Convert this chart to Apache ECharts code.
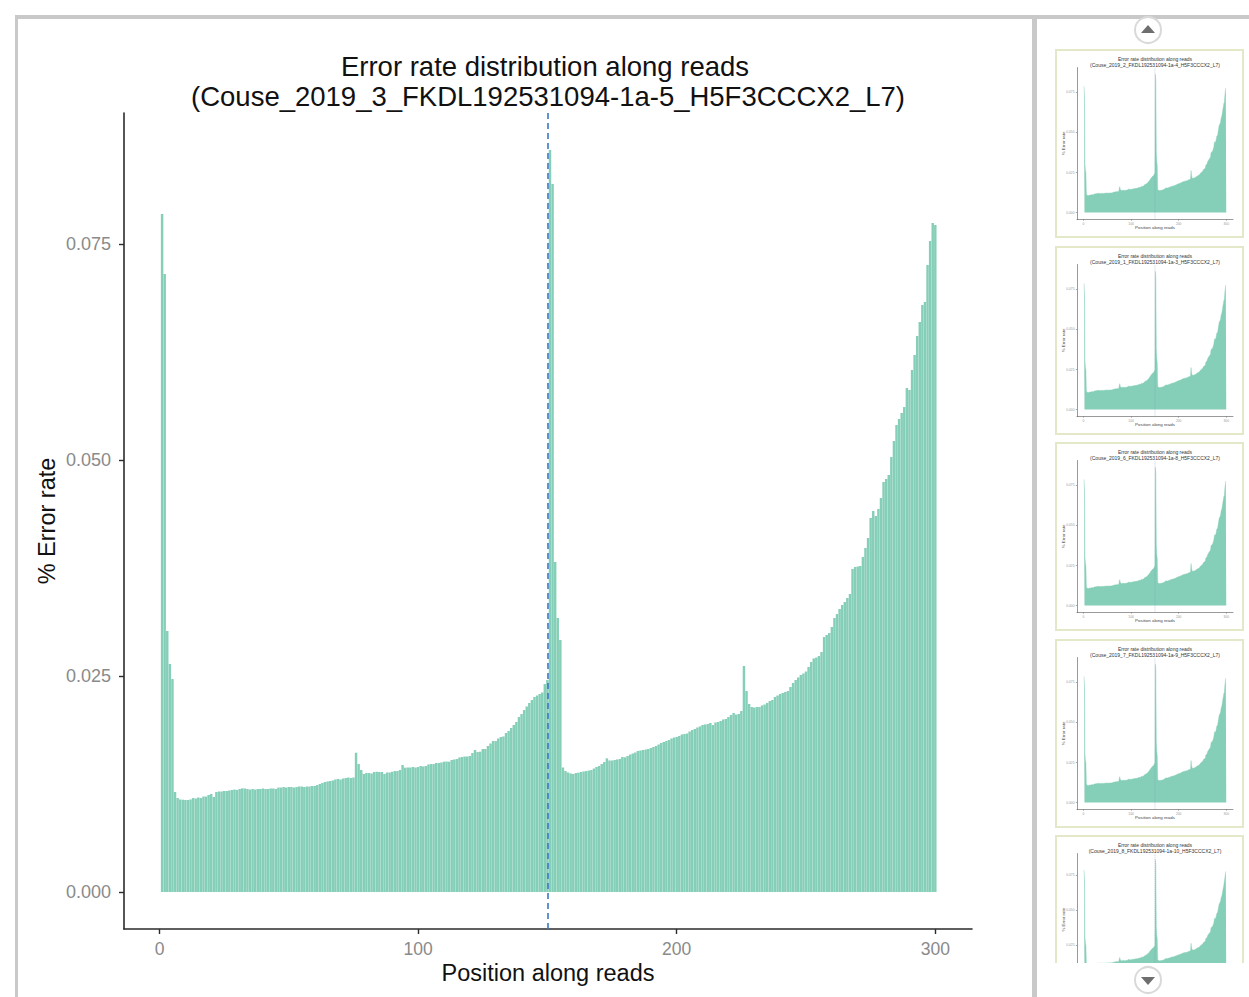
<!DOCTYPE html>
<html>
<head>
<meta charset="utf-8">
<script src="https://cdn.jsdelivr.net/npm/echarts@6/dist/echarts.min.js"></script>
<style>
html,body{margin:0;padding:0;background:#fff;overflow:hidden;}
#c{width:1249px;height:997px;}
</style>
</head>
<body>
<div id="c"></div>
<script>
// ---------------- data ----------------
const titleLines = ['Error rate distribution along reads', '(Couse_2019_3_FKDL192531094-1a-5_H5F3CCCX2_L7)'];
const xAxisName = 'Position along reads';
const yAxisName = '% Error rate';
const readBoundary = 150;
const xTickValues = [0, 100, 200, 300];
const xTickLabels = ['0', '100', '200', '300'];
const yTickValues = [0, 0.025, 0.05, 0.075];
const yTickLabels = ['0.000', '0.025', '0.050', '0.075'];
// error rate at read positions 1..300
const errorRate = [
0.07847,0.07153,0.03021,0.02639,0.02465,0.01157,0.01088,0.01071,0.01068,0.01065,
0.01065,0.01071,0.01088,0.01082,0.01094,0.01088,0.01105,0.01105,0.01123,0.01134,
0.01100,0.01157,0.01163,0.01163,0.01169,0.01169,0.01175,0.01181,0.01186,0.01181,
0.01192,0.01200,0.01198,0.01192,0.01186,0.01192,0.01186,0.01192,0.01192,0.01198,
0.01192,0.01192,0.01198,0.01198,0.01192,0.01209,0.01209,0.01215,0.01209,0.01215,
0.01215,0.01209,0.01215,0.01221,0.01221,0.01215,0.01221,0.01221,0.01227,0.01227,
0.01238,0.01250,0.01262,0.01273,0.01279,0.01285,0.01291,0.01302,0.01308,0.01302,
0.01314,0.01319,0.01325,0.01319,0.01325,0.01612,0.01481,0.01412,0.01366,0.01377,
0.01377,0.01372,0.01389,0.01392,0.01389,0.01389,0.01366,0.01383,0.01383,0.01392,
0.01400,0.01400,0.01412,0.01470,0.01439,0.01441,0.01441,0.01447,0.01441,0.01447,
0.01458,0.01453,0.01458,0.01476,0.01481,0.01481,0.01493,0.01493,0.01499,0.01508,
0.01510,0.01508,0.01528,0.01534,0.01539,0.01557,0.01563,0.01568,0.01568,0.01574,
0.01609,0.01644,0.01620,0.01624,0.01655,0.01655,0.01690,0.01719,0.01748,0.01748,
0.01777,0.01794,0.01800,0.01840,0.01863,0.01898,0.01933,0.01968,0.02025,0.02060,
0.02106,0.02147,0.02188,0.02222,0.02257,0.02274,0.02292,0.02309,0.02407,0.02454,
0.08588,0.08194,0.03819,0.03171,0.02917,0.01441,0.01400,0.01383,0.01372,0.01366,
0.01377,0.01381,0.01389,0.01395,0.01400,0.01406,0.01412,0.01429,0.01447,0.01458,
0.01481,0.01505,0.01547,0.01522,0.01522,0.01528,0.01534,0.01539,0.01563,0.01559,
0.01574,0.01591,0.01603,0.01615,0.01632,0.01638,0.01644,0.01649,0.01655,0.01667,
0.01678,0.01690,0.01707,0.01725,0.01736,0.01748,0.01759,0.01777,0.01788,0.01794,
0.01806,0.01823,0.01829,0.01834,0.01858,0.01875,0.01887,0.01904,0.01916,0.01933,
0.01939,0.01944,0.01956,0.01933,0.01962,0.01968,0.01979,0.01997,0.02002,0.02025,
0.02049,0.02072,0.02054,0.02060,0.02095,0.02616,0.02326,0.02176,0.02141,0.02135,
0.02141,0.02141,0.02159,0.02170,0.02188,0.02211,0.02222,0.02257,0.02274,0.02292,
0.02303,0.02315,0.02326,0.02373,0.02419,0.02454,0.02483,0.02512,0.02529,0.02552,
0.02604,0.02662,0.02703,0.02714,0.02731,0.02778,0.02951,0.02975,0.02998,0.03067,
0.03171,0.03218,0.03275,0.03322,0.03356,0.03403,0.03449,0.03738,0.03762,0.03767,
0.03773,0.03877,0.03981,0.04097,0.04329,0.04410,0.04352,0.04433,0.04560,0.04745,
0.04780,0.04826,0.05035,0.05220,0.05405,0.05475,0.05544,0.05613,0.05833,0.05810,
0.06042,0.06215,0.06435,0.06597,0.06794,0.06829,0.07257,0.07535,0.07743,0.07720
];
// thumbnails in the side panel (other samples, same layout)
const thumbnailSamples = [
  '(Couse_2019_2_FKDL192531094-1a-4_H5F3CCCX2_L7)',
  '(Couse_2019_1_FKDL192531094-1a-3_H5F3CCCX2_L7)',
  '(Couse_2019_6_FKDL192531094-1a-8_H5F3CCCX2_L7)',
  '(Couse_2019_7_FKDL192531094-1a-9_H5F3CCCX2_L7)',
  '(Couse_2019_8_FKDL192531094-1a-10_H5F3CCCX2_L7)'
];

// ---------------- chart ----------------
const FONT = '"Liberation Sans", Arial, Helvetica, sans-serif';
const BAR = '#85CEB7';
const AXIS = '#2b2b2b';
const TICKTXT = '#8a8a8a';
const seriesData = errorRate.map((v, i) => [i + 1, v]);
function lab(values, labels) {
  return v => { let k = 0, d = Infinity; values.forEach((t, j) => { const e = Math.abs(t - v); if (e < d) { d = e; k = j; } }); return labels[k]; };
}
const X_MIN = -13.73, X_MAX = 314.19, Y_MIN = -0.004282, Y_MAX = 0.090162;

const grids = [{ left: 124, top: 113, width: 848, height: 816 }];
const xAxes = [{
  type: 'value', gridIndex: 0, min: X_MIN, max: X_MAX,
  splitLine: { show: false },
  axisLine: { onZero: false, lineStyle: { color: AXIS, width: 1.6 } },
  axisTick: { customValues: xTickValues, length: 5, lineStyle: { color: AXIS, width: 1.4 } },
  axisLabel: { customValues: xTickValues, formatter: lab(xTickValues, xTickLabels), color: TICKTXT, fontSize: 17.5, fontFamily: FONT, margin: 11 },
  name: xAxisName, nameLocation: 'middle', nameGap: 32, nameMoveOverlap: false,
  nameTextStyle: { fontSize: 23.5, color: '#111', fontFamily: FONT }
}];
const yAxes = [{
  type: 'value', gridIndex: 0, min: Y_MIN, max: Y_MAX,
  splitLine: { show: false },
  axisLine: { onZero: false, lineStyle: { color: AXIS, width: 1.6 } },
  axisTick: { customValues: yTickValues, length: 5, lineStyle: { color: AXIS, width: 1.4 } },
  axisLabel: { customValues: yTickValues, formatter: lab(yTickValues, yTickLabels), color: TICKTXT, fontSize: 18, fontFamily: FONT, margin: 13 },
  name: yAxisName, nameLocation: 'middle', nameGap: 65, nameRotate: 90, nameMoveOverlap: false,
  nameTextStyle: { fontSize: 23.5, color: '#111', fontFamily: FONT }
}];
const series = [{
  type: 'bar', xAxisIndex: 0, yAxisIndex: 0, data: seriesData,
  barWidth: 2.45, silent: true, animation: false,
  itemStyle: { color: BAR },
  markLine: {
    silent: true, symbol: 'none', label: { show: false }, animation: false,
    lineStyle: { color: '#3a78c4', type: [6, 4], width: 1.6 },
    data: [{ xAxis: readBoundary }]
  }
}];

const graphics = [
  { type: 'rect', shape: { x: 15, y: 15, width: 1234, height: 4 }, style: { fill: '#c9c9c9' } },
  { type: 'rect', shape: { x: 15, y: 15, width: 3, height: 982 }, style: { fill: '#c9c9c9' } },
  { type: 'rect', shape: { x: 1032, y: 15, width: 5, height: 982 }, style: { fill: '#c9c9c9' } },
  { type: 'text', x: 545, y: 66, style: { text: titleLines[0], fontSize: 27.5, fontFamily: FONT, fill: '#111', textAlign: 'center', textVerticalAlign: 'middle' } },
  { type: 'text', x: 548, y: 96, style: { text: titleLines[1], fontSize: 27.5, fontFamily: FONT, fill: '#111', textAlign: 'center', textVerticalAlign: 'middle' } }
];

const thumbTops = [50, 247, 443, 640, 836];
thumbTops.forEach((by, i) => {
  const bx = 1056, gi = i + 1;
  grids.push({ left: bx + 21, top: by + 17.5, width: 156, height: 152 });
  xAxes.push({
    type: 'value', gridIndex: gi, min: X_MIN, max: X_MAX, splitLine: { show: false },
    axisLine: { onZero: false, lineStyle: { color: '#555', width: 0.6 } },
    axisTick: { customValues: xTickValues, length: 1.2, lineStyle: { color: '#555', width: 0.5 } },
    axisLabel: { customValues: xTickValues, formatter: lab(xTickValues, xTickLabels), color: '#999', fontSize: 3.3, margin: 2.5, fontFamily: FONT },
    name: xAxisName, nameLocation: 'middle', nameGap: 6, nameMoveOverlap: false, nameTextStyle: { fontSize: 4.4, color: '#444', fontFamily: FONT }
  });
  yAxes.push({
    type: 'value', gridIndex: gi, min: Y_MIN, max: Y_MAX, splitLine: { show: false },
    axisLine: { onZero: false, lineStyle: { color: '#555', width: 0.6 } },
    axisTick: { customValues: yTickValues, length: 1.2, lineStyle: { color: '#555', width: 0.5 } },
    axisLabel: { customValues: yTickValues, formatter: lab(yTickValues, yTickLabels), color: '#999', fontSize: 3.3, margin: 2.5, fontFamily: FONT },
    name: yAxisName, nameLocation: 'middle', nameGap: 12, nameRotate: 90, nameMoveOverlap: false, nameTextStyle: { fontSize: 4.4, color: '#444', fontFamily: FONT }
  });
  series.push({
    type: 'line', xAxisIndex: gi, yAxisIndex: gi, data: seriesData, symbol: 'none', silent: true, animation: false,
    lineStyle: { color: BAR, width: 0.4 }, areaStyle: { color: BAR, opacity: 1 },
    markLine: { silent: true, symbol: 'none', label: { show: false }, animation: false,
      lineStyle: { color: '#7a9cc4', type: [1.2, 0.8], width: 0.4 }, data: [{ xAxis: readBoundary }] }
  });
  graphics.push({ type: 'rect', shape: { x: bx, y: by, width: 187, height: 187 }, style: { fill: 'none', stroke: '#e4e8c9', lineWidth: 2 } });
  graphics.push({ type: 'text', x: bx + 99, y: by + 9, style: { text: titleLines[0], fontSize: 5, fontFamily: FONT, fill: '#333', textAlign: 'center', textVerticalAlign: 'middle' } });
  graphics.push({ type: 'text', x: bx + 99, y: by + 14.5, style: { text: thumbnailSamples[i], fontSize: 5, fontFamily: FONT, fill: '#333', textAlign: 'center', textVerticalAlign: 'middle' } });
});

// clip of the scrolling side panel + scroll buttons
graphics.push({ type: 'rect', z: 100, shape: { x: 1038, y: 963, width: 211, height: 34 }, style: { fill: '#fff' } });
graphics.push({ type: 'circle', z: 101, shape: { cx: 1148, cy: 30, r: 13 }, style: { fill: '#fff', stroke: '#d9d9d9', lineWidth: 2 } });
graphics.push({ type: 'polygon', z: 102, shape: { points: [[1141, 33], [1155, 33], [1148, 25]] }, style: { fill: '#6e6e6e' } });
graphics.push({ type: 'circle', z: 101, shape: { cx: 1148, cy: 980, r: 13 }, style: { fill: '#fff', stroke: '#d9d9d9', lineWidth: 2 } });
graphics.push({ type: 'polygon', z: 102, shape: { points: [[1141, 977], [1155, 977], [1148, 985]] }, style: { fill: '#6e6e6e' } });

const chart = echarts.init(document.getElementById('c'), null, { renderer: 'svg', width: 1249, height: 997 });
chart.setOption({
  backgroundColor: '#fff',
  animation: false,
  grid: grids,
  xAxis: xAxes,
  yAxis: yAxes,
  series: series,
  graphic: { elements: graphics }
});
</script>
</body>
</html>
